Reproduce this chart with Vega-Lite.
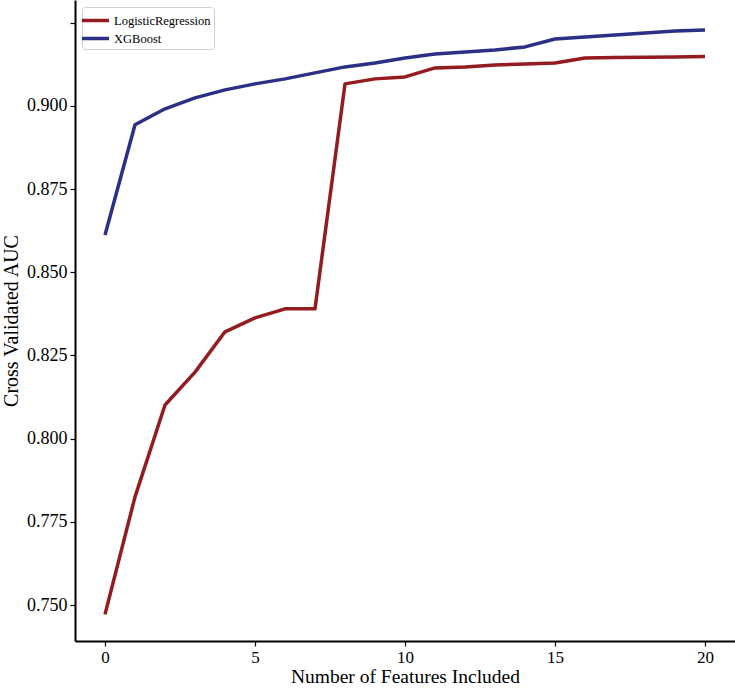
{
  "$schema": "https://vega.github.io/schema/vega-lite/v6.json",
  "width": 660,
  "height": 641,
  "autosize": {"type": "none"},
  "padding": {"left": 75, "top": 0, "right": 0, "bottom": 47},
  "background": "white",
  "config": {
    "view": {"stroke": null},
    "font": "Liberation Serif"
  },
  "data": {
    "values": [
      {"n": 0, "model": "LogisticRegression", "auc": 0.7472},
      {"n": 1, "model": "LogisticRegression", "auc": 0.7825},
      {"n": 2, "model": "LogisticRegression", "auc": 0.8101},
      {"n": 3, "model": "LogisticRegression", "auc": 0.8200},
      {"n": 4, "model": "LogisticRegression", "auc": 0.8321},
      {"n": 5, "model": "LogisticRegression", "auc": 0.8363},
      {"n": 6, "model": "LogisticRegression", "auc": 0.8390},
      {"n": 7, "model": "LogisticRegression", "auc": 0.8390},
      {"n": 8, "model": "LogisticRegression", "auc": 0.9066},
      {"n": 9, "model": "LogisticRegression", "auc": 0.9081},
      {"n": 10, "model": "LogisticRegression", "auc": 0.9087},
      {"n": 11, "model": "LogisticRegression", "auc": 0.9114},
      {"n": 12, "model": "LogisticRegression", "auc": 0.9117},
      {"n": 13, "model": "LogisticRegression", "auc": 0.9123},
      {"n": 14, "model": "LogisticRegression", "auc": 0.9126},
      {"n": 15, "model": "LogisticRegression", "auc": 0.9129},
      {"n": 16, "model": "LogisticRegression", "auc": 0.9144},
      {"n": 17, "model": "LogisticRegression", "auc": 0.9145},
      {"n": 18, "model": "LogisticRegression", "auc": 0.9146},
      {"n": 19, "model": "LogisticRegression", "auc": 0.9147},
      {"n": 20, "model": "LogisticRegression", "auc": 0.9148},
      {"n": 0, "model": "XGBoost", "auc": 0.8612},
      {"n": 1, "model": "XGBoost", "auc": 0.8943},
      {"n": 2, "model": "XGBoost", "auc": 0.8991},
      {"n": 3, "model": "XGBoost", "auc": 0.9024},
      {"n": 4, "model": "XGBoost", "auc": 0.9048},
      {"n": 5, "model": "XGBoost", "auc": 0.9066},
      {"n": 6, "model": "XGBoost", "auc": 0.9081},
      {"n": 7, "model": "XGBoost", "auc": 0.9099},
      {"n": 8, "model": "XGBoost", "auc": 0.9117},
      {"n": 9, "model": "XGBoost", "auc": 0.9129},
      {"n": 10, "model": "XGBoost", "auc": 0.9144},
      {"n": 11, "model": "XGBoost", "auc": 0.9156},
      {"n": 12, "model": "XGBoost", "auc": 0.9162},
      {"n": 13, "model": "XGBoost", "auc": 0.9168},
      {"n": 14, "model": "XGBoost", "auc": 0.9177},
      {"n": 15, "model": "XGBoost", "auc": 0.9201},
      {"n": 16, "model": "XGBoost", "auc": 0.9207},
      {"n": 17, "model": "XGBoost", "auc": 0.9213},
      {"n": 18, "model": "XGBoost", "auc": 0.9219},
      {"n": 19, "model": "XGBoost", "auc": 0.9225},
      {"n": 20, "model": "XGBoost", "auc": 0.9228}
    ]
  },
  "mark": {"type": "line", "strokeWidth": 3.5, "strokeJoin": "round", "strokeCap": "butt"},
  "encoding": {
    "x": {
      "field": "n",
      "type": "quantitative",
      "scale": {"domain": [-1, 21], "nice": false, "zero": false},
      "axis": {
        "title": "Number of Features Included",
        "values": [0, 5, 10, 15, 20],
        "grid": false,
        "domainColor": "black",
        "domainWidth": 2,
        "tickColor": "black",
        "tickWidth": 1.2,
        "tickSize": 5,
        "labelFont": "Liberation Serif",
        "labelFontSize": 17,
        "labelColor": "black",
        "labelPadding": 3,
        "titleFont": "Liberation Serif",
        "titleFontSize": 19.5,
        "titleFontWeight": "normal",
        "titleColor": "black",
        "titlePadding": 2
      }
    },
    "y": {
      "field": "auc",
      "type": "quantitative",
      "scale": {"domain": [0.7392, 0.9318], "nice": false, "zero": false},
      "axis": {
        "title": "Cross Validated AUC",
        "values": [0.75, 0.775, 0.8, 0.825, 0.85, 0.875, 0.9, 0.925],
        "labelExpr": "datum.value > 0.92 ? '' : format(datum.value, '.3f')",
        "grid": false,
        "domainColor": "black",
        "domainWidth": 2,
        "tickColor": "black",
        "tickWidth": 1.2,
        "tickSize": 5,
        "labelFont": "Liberation Serif",
        "labelFontSize": 18,
        "labelColor": "black",
        "labelPadding": 3,
        "titleFont": "Liberation Serif",
        "titleFontSize": 20,
        "titleFontWeight": "normal",
        "titleColor": "black",
        "titlePadding": 5
      }
    },
    "color": {
      "field": "model",
      "type": "nominal",
      "scale": {"domain": ["LogisticRegression", "XGBoost"], "range": ["#941b1f", "#2c2f86"]},
      "legend": {
        "title": null,
        "orient": "top-left",
        "offset": 7,
        "padding": 3,
        "fillColor": "white",
        "strokeColor": "#d0d0d0",
        "cornerRadius": 3,
        "symbolType": "M-1.6,0H1.6",
        "symbolSize": 289,
        "symbolStrokeWidth": 3.5,
        "labelFont": "Liberation Serif",
        "labelFontSize": 12.5,
        "labelColor": "black",
        "labelOffset": 8,
        "rowPadding": -2
      }
    }
  }
}
